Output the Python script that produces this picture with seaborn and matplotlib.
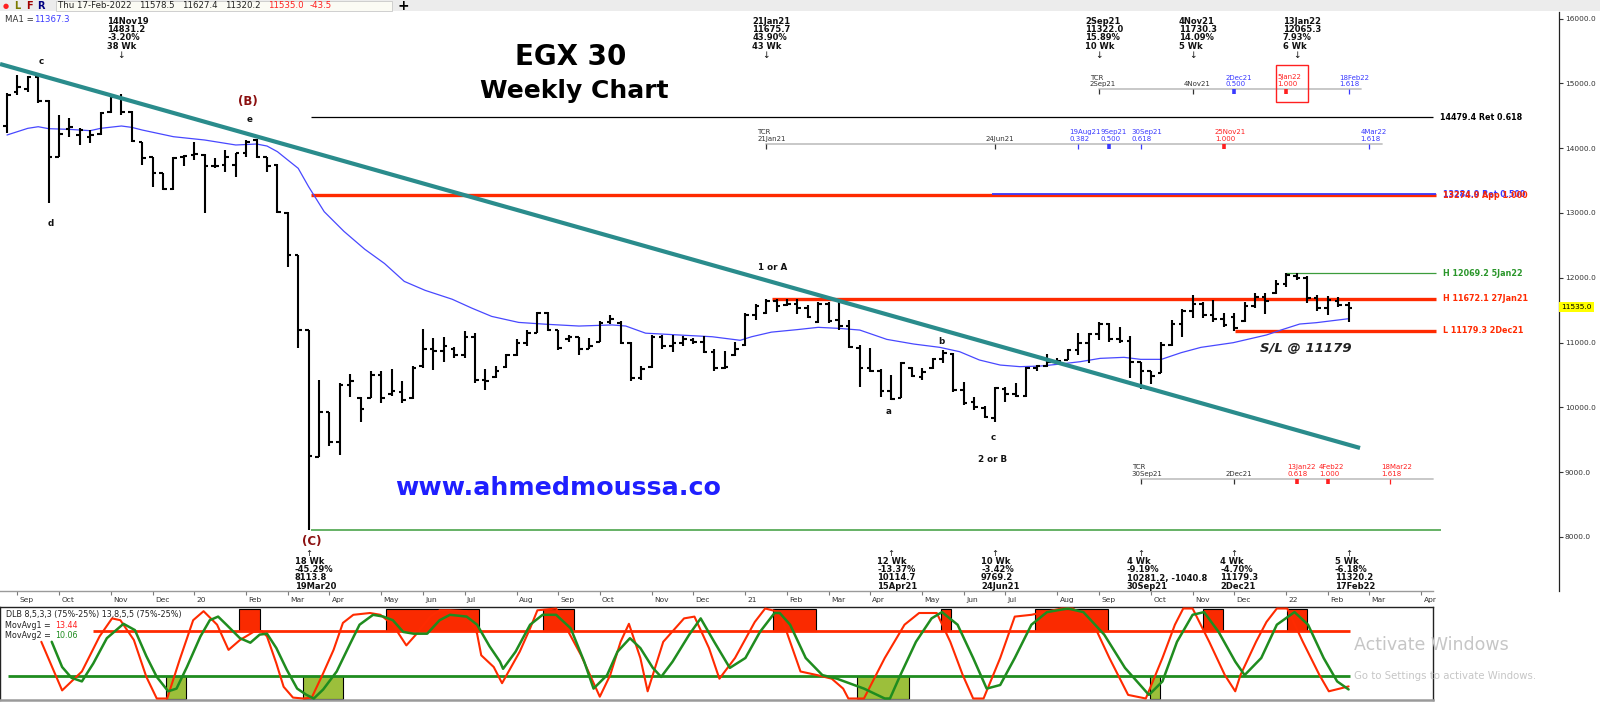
import numpy as np
import pandas as pd
import matplotlib
matplotlib.use("Agg")
import matplotlib.pyplot as plt
from matplotlib.patches import Rectangle
import seaborn as sns

sns.set_theme(style="white")
plt.rcParams["font.family"] = ["DejaVu Sans"]

# ---------------- data ----------------
first_week = "2019-08-29"
opens = [14341, 14871, 14907, 15102, 14732, 13868, 14289, 14202, 14176, 14212,
         14562, 14768, 14562, 14099, 13857, 13610, 13363, 13868, 13893, 13893,
         13724, 13739, 13739, 13919, 14125, 13857, 13739, 13004, 12350, 11193,
         9240, 9930, 9460, 10340, 10150, 10140, 10500, 10200, 10230, 10140,
         10630, 10900, 10870, 10900, 10800, 11090, 10420, 10460, 10620, 10810,
         11000, 11150, 11460, 11199, 11050, 11080, 10900, 11010, 11310, 11300,
         11000, 10450, 10620, 11080, 10950, 11000, 11040, 11010, 10860, 10600,
         10800, 10960, 11420, 11450, 11640, 11580, 11600, 11540, 11320, 11600,
         11340, 11250, 10920, 10600, 10560, 10250, 10140, 10600, 10470, 10600,
         10750, 10830, 10260, 10080, 9990, 9840, 10280, 10210, 10180, 10600,
         10640, 10700, 10730, 10880, 11000, 11130, 11280, 11050, 11020, 10700,
         10560, 10530, 10960, 11290, 11480, 11600, 11420, 11360, 11400, 11330,
         11560, 11700, 11760, 11900, 12030, 12000, 11680, 11530, 11640, 11578.5]
highs = [14845, 15128, 15112, 15128, 14742, 14511, 14459, 14305, 14279, 14562,
         14794, 14831.2, 14577, 14099, 13868, 13621, 13857, 13893, 14099, 13909,
         13842, 13970, 13919, 14125, 14145, 13868, 13754, 13019, 12350, 11193,
         10428, 9932, 10373, 10510, 10152, 10565, 10565, 10593, 10400, 10632,
         11216, 11062, 11089, 10924, 11172, 11144, 10593, 10632, 10830, 11050,
         11188, 11475, 11475, 11199, 11116, 11089, 11062, 11337, 11420, 11326,
         11006, 10632, 11116, 11116, 11116, 11106, 11062, 11106, 10896, 10868,
         11006, 11458, 11600, 11675.7, 11672, 11668, 11668, 11578, 11630, 11630,
         11655, 11347, 10961, 10910, 10585, 10498, 10704, 10616, 10601, 10755,
         10884, 10832, 10395, 10164, 10020, 10318, 10318, 10369, 10627, 10652,
         10822, 10755, 10894, 11141, 11151, 11322.0, 11306, 11234, 11100, 10704,
         10565, 11012, 11347, 11511, 11730.3, 11630, 11655, 11450, 11450, 11630,
         11759, 11769, 11965, 12067, 12065.3, 12026, 11733, 11718, 11707, 11627.4]
lows = [14238, 14819, 14871, 14691, 13158, 13857, 14176, 14048, 14073, 14202,
        14547, 14511, 14099, 13739, 13394, 13353, 13353, 13724, 13816, 13004,
        13688, 13636, 13559, 13857, 13842, 13636, 13004, 12170, 10910, 8113.8,
        9232, 9408, 9270, 10152, 9766, 10136, 10070, 10180, 10070, 10125,
        10610, 10577, 10703, 10758, 10758, 10373, 10262, 10455, 10610, 10797,
        10951, 11144, 11183, 10885, 11006, 10813, 10896, 11006, 11293, 10979,
        10411, 10428, 10610, 10896, 10852, 10951, 10979, 10841, 10554, 10593,
        10797, 10951, 11350, 11436, 11475, 11558, 11436, 11372, 11295, 11306,
        11192, 10910, 10318, 10550, 10153, 10114.7, 10138, 10462, 10421, 10590,
        10678, 10241, 10035, 9958, 9829, 9769.2, 10086, 10164, 10153, 10565,
        10627, 10678, 10730, 10807, 10678, 11038, 11012, 10997, 10447, 10281.2,
        10359, 10524, 10950, 11090, 11372, 11372, 11321, 11244, 11179.3, 11321,
        11527, 11440, 11749, 11862, 11965, 11604, 11491, 11424, 11553, 11320.2]
closes = [14819, 14948, 15102, 14727, 13868, 14217, 14320, 14279, 14202, 14547,
          14783, 14562, 14109, 13842, 13610, 13363, 13842, 13878, 13909, 13724,
          13724, 13857, 13919, 14099, 13868, 13724, 13019, 12350, 11193, 9243,
          9930, 9460, 10340, 10400, 9980, 10500, 10150, 10250, 10120, 10600,
          10900, 10870, 10950, 10800, 11090, 10420, 10400, 10560, 10800, 11000,
          11150, 11460, 11200, 10920, 11080, 10900, 10950, 11300, 11360, 11000,
          10450, 10590, 11080, 10950, 11000, 11050, 11010, 10860, 10600, 10620,
          10900, 11420, 11560, 11640, 11560, 11600, 11540, 11400, 11600, 11330,
          11250, 10930, 10600, 10560, 10250, 10130, 10690, 10480, 10540, 10740,
          10840, 10270, 10070, 10000, 9850, 10300, 10200, 10180, 10600, 10630,
          10700, 10720, 10880, 11000, 11130, 11280, 11050, 11020, 10700, 10560,
          10480, 10960, 11290, 11480, 11600, 11420, 11360, 11270, 11220, 11560,
          11700, 11640, 11900, 12040, 12000, 11680, 11530, 11650, 11580, 11535.0]

ma_week = [0, 2, 3, 4, 6, 8, 9, 11, 12, 13, 16, 19, 22, 24, 25, 26, 27, 28, 29,
           30.5, 32.4, 34.4, 36.3, 38.2, 40.2, 42.8, 44.7, 46.6, 49.2, 51.8, 55,
           58.2, 59.5, 61.4, 64.6, 67.8, 70.5, 71.6, 73.5, 76, 78, 80, 82, 84.6,
           87.2, 89.7, 91.6, 93.5, 95.5, 97.4, 99.4, 101.3, 103.2, 105.1, 107.4,
           109, 111, 112.9, 114.8, 117.9, 121.1, 122.7, 124.3, 125.9, 129]
ma_value = [14202, 14305, 14330, 14300, 14289, 14269, 14305, 14341, 14320, 14279,
            14176, 14125, 14048, 14063, 14032, 13945, 13816, 13688, 13405, 13019,
            12715, 12439, 12219, 11943, 11805, 11668, 11530, 11403, 11310, 11282,
            11254, 11271, 11254, 11144, 11116, 11089, 11034, 11089, 11160, 11199,
            11234, 11218, 11192, 11048, 10976, 10925, 10858, 10730, 10652, 10627,
            10637, 10668, 10704, 10755, 10771, 10740, 10740, 10843, 10925, 10997,
            11116, 11203, 11285, 11306, 11367.3]

trend_week = [-0.67, 130.1]
trend_price = [15298, 9372]

osc1_week = [3.3, 5.3, 7.2, 8.9, 10.1, 10.9, 12.2, 13.4, 14.4, 15.4, 16.6, 17.9,
             18.9, 20.2, 21.3, 22.4, 23.7, 24.5, 25.0, 25.9, 26.6, 27.5, 28.5,
             29.3, 30.4, 31.4, 32.3, 33.3, 34.9, 35.9, 37.1, 38.4, 39.4, 40.7,
             41.6, 42.6, 44.2, 45.2, 45.6, 46.8, 47.6, 49.3, 50.3, 51.0, 52.8,
             53.8, 55.2, 57.0, 58.0, 59.0, 59.8, 60.9, 61.6, 63.1, 65.1, 66.1,
             67.5, 68.5, 70.0, 71.9, 72.9, 74.3, 75.3, 76.3, 77.9, 79.3, 80.4,
             80.9, 82.4, 84.4, 86.3, 87.7, 89.4, 90.7, 91.9, 92.9, 93.9, 95.5,
             96.9, 98.5, 101.4, 102.5, 104.5, 106.0, 107.8, 109.5, 111.1, 112.3,
             113.1, 114.0, 115.6, 117.1, 118.1, 118.6, 120.1, 121.1, 122.1,
             123.1, 124.6, 126.2, 127.1, 129.0]
osc1_value = [63, 9, 30, 69, 89, 87, 65, 24, 0, 0, 43, 87, 97, 82, 54, 65, 74, 75,
              69, 39, 13, 1, 0, 1, 28, 54, 84, 93, 95, 93, 82, 59, 72, 91, 98, 98,
              97, 72, 48, 35, 17, 52, 78, 98, 100, 78, 48, 2, 26, 63, 83, 45, 8,
              63, 89, 91, 56, 22, 45, 85, 100, 96, 63, 30, 26, 22, 11, 0, 0, 45,
              82, 95, 95, 63, 26, 0, 0, 45, 91, 93, 100, 100, 82, 45, 4, 0, 45,
              82, 100, 100, 63, 26, 8, 26, 63, 85, 100, 100, 63, 26, 8, 13.44]
osc2_week = [4.3, 5.3, 6.2, 7.2, 8.3, 9.6, 11.2, 12.3, 13.4, 14.4, 15.5, 16.3,
             17.3, 18.6, 19.5, 20.3, 21.1, 22.4, 23.4, 24.3, 25.0, 25.9, 26.9,
             27.9, 28.8, 29.5, 30.4, 31.7, 33.0, 33.9, 35.2, 36.2, 37.1, 38.1,
             39.1, 40.4, 41.6, 42.6, 44.2, 45.2, 46.4, 47.4, 47.7, 48.9, 50.3,
             51.5, 52.8, 54.2, 55.5, 56.4, 57.7, 58.7, 59.9, 60.9, 62.1, 62.9,
             64.0, 65.6, 66.7, 68.0, 69.5, 71.0, 72.4, 73.8, 74.3, 75.3, 76.8,
             78.4, 79.8, 82.4, 84.4, 84.9, 85.9, 87.4, 88.9, 89.9, 91.4, 92.9,
             94.2, 95.5, 96.9, 98.5, 100.0, 102.0, 103.5, 105.5, 107.5, 109.8,
             111.1, 112.5, 114.0, 115.1, 116.5, 118.1, 119.0, 120.6, 122.1,
             123.8, 125.1, 126.6, 127.9, 129.0]
osc2_value = [63, 35, 23, 19, 39, 67, 83, 76, 47, 24, 8, 11, 35, 69, 87, 91, 82,
              67, 62, 71, 72, 56, 32, 11, 4, 0, 10, 30, 61, 82, 93, 91, 87, 74,
              72, 72, 87, 93, 91, 82, 58, 41, 33, 52, 82, 93, 93, 78, 41, 11, 26,
              52, 67, 56, 34, 24, 41, 71, 89, 63, 34, 45, 74, 95, 95, 82, 45, 26,
              22, 11, 0, 0, 26, 63, 89, 96, 82, 45, 11, 15, 45, 82, 96, 100, 96,
              71, 34, 4, 19, 63, 93, 96, 74, 41, 26, 45, 82, 96, 82, 45, 19, 10.06]

red_box_start = [22.3, 36.4, 51.5, 73.7, 89.8, 98.8, 115.0, 123.1]
red_box_end = [24.3, 45.4, 54.5, 77.8, 90.8, 105.9, 116.9, 125.0]
green_box_start = [15.3, 28.5, 81.7, 109.9]
green_box_end = [17.2, 32.3, 86.7, 110.9]

peak_week = [11, 73, 105, 114, 124]
peak_text = [["14Nov19", "14831.2", "-3.20%", "38 Wk"],
             ["21Jan21", "11675.7", "43.90%", "43 Wk"],
             ["2Sep21", "11322.0", "15.89%", "10 Wk"],
             ["4Nov21", "11730.3", "14.09%", "5 Wk"],
             ["13Jan22", "12065.3", "7.93%", "6 Wk"]]
trough_week = [29, 85, 95, 109, 118, 129]
trough_text = [["18 Wk", "-45.29%", "8113.8", "19Mar20"],
               ["12 Wk", "-13.37%", "10114.7", "15Apr21"],
               ["10 Wk", "-3.42%", "9769.2", "24Jun21"],
               ["4 Wk", "-9.19%", "10281.2, -1040.8", "30Sep21"],
               ["4 Wk", "-4.70%", "11179.3", "2Dec21"],
               ["5 Wk", "-6.18%", "11320.2", "17Feb22"]]

tcr_a_week = [105, 114, 118, 123, 129]
tcr_a_top = ["TCR", "", "2Dec21", "5Jan22", "18Feb22"]
tcr_a_bot = ["2Sep21", "4Nov21", "0.500", "1.000", "1.618"]
tcr_a_kind = ["base", "base", "fib", "hit", "fib"]
tcr_b_week = [73, 95, 103, 106, 109, 117, 131]
tcr_b_top = ["TCR", "", "19Aug21", "9Sep21", "30Sep21", "25Nov21", "4Mar22"]
tcr_b_bot = ["21Jan21", "24Jun21", "0.382", "0.500", "0.618", "1.000", "1.618"]
tcr_b_kind = ["base", "base", "fib", "fib", "fib", "hit", "fib"]
tcr_c_week = [109, 118, 124, 127, 133]
tcr_c_top = ["TCR", "", "13Jan22", "4Feb22", "18Mar22"]
tcr_c_bot = ["30Sep21", "2Dec21", "0.618", "1.000", "1.618"]
tcr_c_kind = ["base", "base", "hit", "hit", "hit"]

# ---------------- figure ----------------
W, H = 1600, 703
fig = plt.figure(figsize=(16, 7.03), dpi=100)
fig.patch.set_facecolor("white")

RED = "#ff2a00"
BLUE = "#3a3aff"
GREEN = "#1f8c1f"
TEAL = "#2a8c8c"

X0 = 7.0       # pixel of week 0
DX = 10.4      # pixels per week


def fx(px):
    return px / W


def fy(py):
    return 1 - py / H


def ft(x, y, s, **kw):
    kw.setdefault("va", "center")
    kw.setdefault("ha", "left")
    return fig.text(fx(x), fy(y), s, **kw)


# main price axes
PT, PB, PR = 12, 591, 1559
ax = fig.add_axes([0, fy(PB), fx(PR), (PB - PT) / H])
ax.set_facecolor("white")
ax.set_xlim(-X0 / DX, (PR - X0) / DX)


def price_of(py):
    return 12000 - (py - 277.7) / 0.0648


ax.set_ylim(price_of(PB), price_of(PT))


def ay(py):
    return (PB - py) / (PB - PT)


weeks = np.arange(len(closes))
dates = pd.date_range(first_week, periods=138, freq="7D")

# OHLC bars
ax.vlines(weeks, lows, highs, color="black", lw=1.5, zorder=4)
ax.hlines(opens, weeks - 0.34, weeks, color="black", lw=1.5, zorder=4)
ax.hlines(closes, weeks, weeks + 0.34, color="black", lw=1.5, zorder=4)

# moving average
sns.lineplot(x=ma_week, y=ma_value, ax=ax, color="#4848ff", lw=0.9,
             estimator=None, sort=False, zorder=3)

# trend line
ax.plot(trend_week, trend_price, color=TEAL, lw=3.0, solid_capstyle="butt", zorder=5)

# horizontal levels
ax.hlines(13274.0, 29.2, 137.4, color=RED, lw=2.4, zorder=2)
ax.hlines(13284.9, 94.7, 137.4, color=BLUE, lw=1.3, zorder=2)
ax.hlines(14479.4, 29.2, 137.1, color="black", lw=0.9, zorder=2)
ax.hlines(8113.8, 29.2, 137.9, color="#3c9c3c", lw=1.1, zorder=2)
ax.hlines(11672.1, 73.6, 137.4, color=RED, lw=2.4, zorder=2)
ax.hlines(11179.3, 118.1, 137.4, color=RED, lw=2.4, zorder=2)
ax.hlines(12069.2, 123.0, 137.4, color="#3c9c3c", lw=0.9, zorder=2)

lab_kw = dict(fontsize=5.8, fontweight="bold", va="center", ha="left")
ax.text(137.8, 14479.4, "14479.4 Ret 0.618", color="black", **lab_kw)
ax.text(138.1, 13284.9, "13284.9 Ret 0.500", color=BLUE, **lab_kw)
ax.text(138.1, 13274.0, "13274.0 App 1.000", color=RED, **lab_kw)
ax.text(138.1, 12069.2, "H 12069.2 5Jan22", color="#2a962a", **lab_kw)
ax.text(138.1, 11672.1, "H 11672.1 27Jan21", color=RED, **lab_kw)
ax.text(138.1, 11179.3, "L 11179.3 2Dec21", color=RED, **lab_kw)

# axes styling
for s in ["top", "left"]:
    ax.spines[s].set_visible(False)
ax.spines["right"].set_color("#222222")
ax.spines["right"].set_linewidth(0.9)
ax.spines["bottom"].set_color("#9a9a9a")
ax.spines["bottom"].set_linewidth(1.0)
ax.spines["bottom"].set_bounds(-X0 / DX, (1433 - X0) / DX)
ax.yaxis.tick_right()
ax.set_yticks(np.arange(8000, 16001, 1000))
ax.set_yticklabels([f"{v:.1f}" for v in np.arange(8000, 16001, 1000)],
                   fontsize=5.3, color="#333333")
ax.tick_params(axis="y", direction="out", length=3, width=0.8, pad=1.2,
               colors="#333333", right=True)

month_idx = [i for i in range(1, len(dates)) if dates[i].month != dates[i - 1].month]
month_lab = [(d.strftime("%y") if d.month == 1 else d.strftime("%b")) for d in dates[month_idx]]
ax.set_xticks(month_idx)
ax.set_xticklabels([])
ax.tick_params(axis="x", direction="out", length=3.0, width=0.8, colors="#7a7a7a",
               bottom=True)
for i, lab in zip(month_idx, month_lab):
    ax.annotate(lab, xy=(i, 0), xycoords=("data", "axes fraction"),
                xytext=(1.6, -6.6), textcoords="offset points",
                fontsize=5.4, color="#333333", ha="left", va="center")
ax.set_xlabel("")
ax.set_ylabel("")

# peak / trough annotations
ann_kw = dict(fontsize=6.0, fontweight="bold", color="#111111", va="center",
              ha="left", xycoords=("data", "axes fraction"), textcoords="offset points")
for wk, lines in zip(peak_week, peak_text):
    for k, t in enumerate(lines):
        ax.annotate(t, xy=(wk, ay(21 + 8.5 * k)), xytext=(-14 * 0.72, 0), **ann_kw)
    ax.annotate("↓", xy=(wk, ay(55)), xycoords=("data", "axes fraction"),
                ha="center", va="center", fontsize=6.5, color="#111111")
for wk, lines in zip(trough_week, trough_text):
    ax.annotate("↑", xy=(wk, ay(553)), xycoords=("data", "axes fraction"),
                ha="center", va="center", fontsize=6.0, color="#111111")
    for k, t in enumerate(lines):
        ax.annotate(t, xy=(wk, ay(561 + 8.5 * k)), xytext=(-14 * 0.72, 0), **ann_kw)

# time-cycle rulers
def draw_tcr(wks, tops, bots, kinds, y_line, x_end):
    trans = ax.get_xaxis_transform()
    ax.plot([wks[0], x_end], [ay(y_line), ay(y_line)], transform=trans,
            color="#c4c4c4", lw=1.3, zorder=2)
    for wk, t, b, kd in zip(wks, tops, bots, kinds):
        col = {"base": "#333333", "fib": BLUE, "hit": "#ff2020"}[kd]
        heavy = (b in ("0.500", "1.000")) or (kd == "hit" and b == "0.618")
        ax.plot([wk, wk], [ay(y_line), ay(y_line + 5)], transform=trans,
                color=col, lw=2.6 if heavy else 0.9, zorder=3, solid_capstyle="butt")
        for txt, dy in ((t, -11.8), (b, -5.2)):
            if txt:
                ax.annotate(txt, xy=(wk, ay(y_line + dy)),
                            xycoords=("data", "axes fraction"),
                            xytext=(-9 * 0.72, 0), textcoords="offset points",
                            fontsize=5.0, color=col, ha="left", va="center")


draw_tcr(tcr_a_week, tcr_a_top, tcr_a_bot, tcr_a_kind, 89.3, 130.2)
draw_tcr(tcr_b_week, tcr_b_top, tcr_b_bot, tcr_b_kind, 144.0, 132.2)
draw_tcr(tcr_c_week, tcr_c_top, tcr_c_bot, tcr_c_kind, 479.0, 137.1)
fig.patches.append(Rectangle((fx(1276), fy(102.3)), fx(32), (102.3 - 65) / H,
                             transform=fig.transFigure, fill=False,
                             edgecolor="#ff2020", lw=1.0))

# wave labels & texts
wv = dict(fontsize=6.3, fontweight="bold", color="#111111", ha="center")
ft(41, 62, "c", **wv)
ft(51, 223, "d", **wv)
ft(250, 120, "e", **wv)
ft(773, 267, "1 or A", **wv)
ft(889, 412, "a", **wv)
ft(941, 341, "b", **wv)
ft(993, 437, "c", **wv)
ft(993, 460, "2 or B", **wv)
ft(248, 101, "(B)", fontsize=8.5, fontweight="bold", color="#8b1010", ha="center")
ft(312, 542, "(C)", fontsize=8.5, fontweight="bold", color="#8b1010", ha="center")

ft(571, 57, "EGX 30", fontsize=20, fontweight="bold", color="black", ha="center")
ft(574, 91, "Weekly Chart", fontsize=18, fontweight="bold", color="black", ha="center")
ft(558, 488, "www.ahmedmoussa.co", fontsize=18.2, fontweight="bold", color="#1f1fff",
   ha="center")
ft(1306, 349, "S/L @ 11179", fontsize=9.5, fontweight="bold", style="italic",
   color="#222222", ha="center")
ft(1561, 307, "11535.0", fontsize=5.3, color="black",
   bbox=dict(facecolor="#ffff00", edgecolor="none", pad=1.6))

# header bar
fig.patches.append(Rectangle((0, fy(11)), 1, 11 / H, transform=fig.transFigure,
                             facecolor="#ececec", edgecolor="none"))
fig.patches.append(Rectangle((fx(56), fy(10.5)), fx(336), 10 / H,
                             transform=fig.transFigure, facecolor="#fbfbf4",
                             edgecolor="#c8c8c8", lw=0.6))
ft(3, 6, "●", fontsize=5, color="#ff2020")
ft(14, 6, "L", fontsize=7, fontweight="bold", color="#7a7a00")
ft(26, 6, "F", fontsize=7, fontweight="bold", color="#a00000")
ft(37, 6, "R", fontsize=7, fontweight="bold", color="#000080")
hdr = dict(fontsize=6.2, color="#222222")
ft(58, 6, "Thu 17-Feb-2022", **hdr)
ft(139, 6, "11578.5", **hdr)
ft(182, 6, "11627.4", **hdr)
ft(225, 6, "11320.2", **hdr)
ft(268, 6, "11535.0", fontsize=6.2, color="#ff2020")
ft(310, 6, "-43.5", fontsize=6.2, color="#ff2020")
ft(403, 6, "+", fontsize=10, fontweight="bold", color="black", ha="center")
ft(5, 20, "MA1 =", fontsize=6.2, color="#333333")
ft(34, 20, "11367.3", fontsize=6.2, color=BLUE)

# ---------------- oscillator panel ----------------
OT, OB, OR = 607, 700, 1433
ox = fig.add_axes([0, fy(OB), fx(OR), (OB - OT) / H])
ox.set_facecolor("white")
ox.set_xlim(-X0 / DX, (OR - X0) / DX)
ox.set_ylim((698.5 - OB) / 0.9, (698.5 - OT) / 0.9)
for a, b in zip(red_box_start, red_box_end):
    ox.add_patch(Rectangle((a, 75), b - a, 25, facecolor="#fa2a00",
                           edgecolor="black", lw=0.8, zorder=1))
for a, b in zip(green_box_start, green_box_end):
    ox.add_patch(Rectangle((a, 0), b - a, 25, facecolor="#9cbf3b",
                           edgecolor="black", lw=0.8, zorder=1))
ox.hlines(75, 8.3, 129.1, color=RED, lw=2.0, zorder=2)
ox.hlines(25, 0.1, 129.1, color=GREEN, lw=2.0, zorder=2)
sns.lineplot(x=osc1_week, y=osc1_value, ax=ox, color="#ff2a00", lw=1.5,
             estimator=None, sort=False, zorder=3)
sns.lineplot(x=osc2_week, y=osc2_value, ax=ox, color=GREEN, lw=1.8,
             estimator=None, sort=False, zorder=4)
ox.set_xticks([])
ox.set_yticks([])
ox.set_xlabel("")
ox.set_ylabel("")
for s in ox.spines.values():
    s.set_color("#222222")
    s.set_linewidth(1.0)
ox.spines["bottom"].set_color("#9a9a9a")
ox.spines["bottom"].set_linewidth(1.8)

ft(6, 614, "DLB 8,5,3,3 (75%-25%) 13,8,5,5 (75%-25%)", fontsize=5.8, color="#222222")
ft(5, 625, "MovAvg1 =", fontsize=5.8, color="#222222")
ft(55, 625, "13.44", fontsize=5.8, color="#ff2020")
ft(5, 635, "MovAvg2 =", fontsize=5.8, color="#222222")
ft(55, 635, "10.06", fontsize=5.8, color=GREEN)

# watermark
ft(1354, 645, "Activate Windows", fontsize=12.5, color="#c6c6c6")
ft(1354, 676, "Go to Settings to activate Windows.", fontsize=7.3, color="#c6c6c6")

fig.savefig("out.png", dpi=100)
